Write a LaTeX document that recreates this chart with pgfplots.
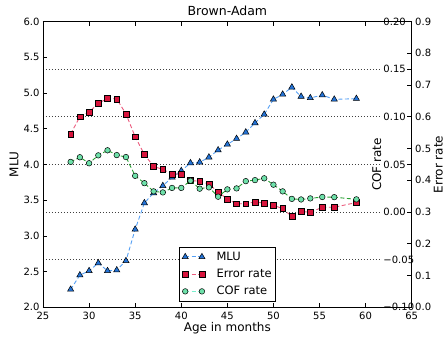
\documentclass[border=0pt]{standalone}
\usepackage{pgfplots}
\pgfplotsset{compat=1.18}
\usepackage{fontspec}
\setmainfont{DejaVu Sans}

\definecolor{mlufill}{RGB}{35,115,215}
\definecolor{mluline}{RGB}{85,160,245}
\definecolor{errfill}{RGB}{215,20,60}
\definecolor{errline}{RGB}{235,90,125}
\definecolor{coffill}{RGB}{110,225,170}
\definecolor{cofline}{RGB}{40,160,50}
\definecolor{coflegend}{RGB}{120,240,205}

\pgfplotsset{
  every axis/.append style={
    scale only axis, width=368.7pt, height=285.8pt,
    xmin=25, xmax=65,
    tick align=inside,
    major tick length=4.5pt,
    every tick/.style={black, line width=0.6pt},
    axis line style={line width=0.8pt},
    tick label style={font=\fontsize{10}{12}\selectfont},
    label style={font=\fontsize{12}{14}\selectfont},
  },
  mlu/.style={mluline, line width=0.9pt, dash pattern=on 4pt off 2.5pt,
    mark=triangle*, mark size=3.6pt,
    mark options={solid, fill=mlufill, draw=black, line width=0.5pt}},
  err/.style={errline, line width=0.9pt, dash pattern=on 4pt off 2.5pt,
    mark=square*, mark size=2.9pt,
    mark options={solid, fill=errfill, draw=black, line width=0.5pt}},
  cof/.style={cofline, line width=0.9pt, dash pattern=on 4pt off 2.5pt,
    mark=*, mark size=2.8pt,
    mark options={solid, fill=coffill, draw=black, line width=0.5pt}},
  cofscale/.style={ymin=-0.10, ymax=0.20},
}

\begin{document}
\begin{tikzpicture}
\path[use as bounding box] (-43pt,-31.7pt) rectangle (402pt,307.3pt);

% COF scale: dotted grid, ticks and labels just inside the right spine
\begin{axis}[
  cofscale,
  hide x axis,
  axis y line*=right,
  ytick={-0.1,-0.05,0,0.05,0.1,0.15,0.2},
  yticklabels={−0.10,−0.05,0.00,0.05,0.10,0.15,0.20},
  yticklabel style={anchor=west, xshift=-29.9pt, fill=white, inner xsep=1.5pt},
  ymajorgrids,
  grid style={black!75, dash pattern=on 0.8pt off 2.2pt, line width=0.8pt},
  ylabel={COF rate},
  ylabel style={at={(axis description cs:0.905,0.5)}, anchor=center, rotate=0},
]
\end{axis}

% Host axis: mean length of utterance
\begin{axis}[
  ymin=2, ymax=6,
  xtick={25,30,35,40,45,50,55,60,65},
  xticklabels={25,30,35,40,45,50,55,60,65},
  xticklabel style={yshift=-1.2pt},
  ytick={2,2.5,3,3.5,4,4.5,5,5.5,6},
  yticklabels={2.0,2.5,3.0,3.5,4.0,4.5,5.0,5.5,6.0},
  ytick pos=left,
  xlabel={Age in months}, ylabel={MLU},
  xlabel style={at={(axis description cs:0.5,-0.0724)}, anchor=center},
  ylabel style={at={(axis description cs:-0.0787,0.5)}, anchor=center},
  title={Brown-Adam},
  every axis title shift=0pt,
  title style={at={(axis description cs:0.5,1.0367)}, anchor=center, yshift=0pt,
    font=\fontsize{12.5}{14}\selectfont},
]
\addplot[mlu] coordinates {
  (28,2.25) (29,2.45) (30,2.51) (31,2.62) (32,2.51) (33,2.52) (34,2.65)
  (35,3.09) (36,3.46) (37,3.60) (38,3.70) (39,3.82) (40,3.91) (41,4.02)
  (42,4.03) (43,4.10) (44,4.20) (45,4.28) (46,4.36) (47,4.45) (48,4.58)
  (49,4.70) (50,4.91) (51,4.98) (52,5.08) (53,4.95) (54,4.93) (55.3,4.97)
  (56.6,4.91) (59,4.92)
};
\end{axis}

% Error rate on the outer right scale
\begin{axis}[
  ymin=0, ymax=0.9,
  hide x axis,
  axis y line*=right,
  ytick={0,0.1,0.2,0.3,0.4,0.5,0.6,0.7,0.8,0.9},
  yticklabels={0.0,0.1,0.2,0.3,0.4,0.5,0.6,0.7,0.8,0.9},
  yticklabel style={anchor=west},
  ylabel={Error rate},
  ylabel style={at={(axis description cs:1.072,0.5)}, anchor=center, rotate=0},
]
\addplot[err] coordinates {
  (28,0.546) (29,0.600) (30,0.615) (31,0.642) (32,0.658) (33,0.656)
  (34,0.609) (35,0.537) (36,0.481) (37,0.444) (38,0.434) (39,0.420)
  (40,0.419) (41,0.399) (42,0.397) (43,0.388) (44,0.363) (45,0.341)
  (46,0.326) (47,0.326) (48,0.332) (49,0.328) (50,0.321) (51,0.311)
  (52,0.286) (53,0.302) (54,0.299) (55.3,0.315) (56.6,0.315) (59,0.330)
};
\end{axis}

% COF rate data and the shared legend
\begin{axis}[
  cofscale,
  hide x axis, hide y axis,
  legend style={at={(axis description cs:0.5,0.0196)}, anchor=south,
    draw=black, fill=white, line width=0.6pt,
    font=\fontsize{11.5}{13}\selectfont,
    row sep=3.3pt, column sep=10.5pt, inner xsep=3pt, inner ysep=3pt,
    nodes={inner xsep=1pt}},
  legend cell align=left,
  legend image code/.code={\draw[#1] plot coordinates {(0pt,0pt) (16.7pt,0pt)};},
]
\addlegendimage{mlu}
\addlegendentry{MLU}
\addlegendimage{err}
\addlegendentry{Error rate}
\addlegendimage{cof, coflegend}
\addlegendentry{COF rate}
\addplot[cof, forget plot] coordinates {
  (28,0.0526) (29,0.0575) (30,0.0512) (31,0.0595) (32,0.0648) (33,0.0598)
  (34,0.0577) (35,0.0380) (36,0.0303) (37,0.0217) (38,0.0206) (39,0.0253)
  (40,0.0253) (41,0.0329) (42,0.0245) (43,0.0259) (44,0.0161) (45,0.0238)
  (46,0.0248) (47,0.0324) (48,0.0335) (49,0.0354) (50,0.0287) (51,0.0217)
  (52,0.0138) (53,0.0132) (54,0.0143) (55.3,0.0158) (56.6,0.0156) (59,0.0133)
};
\end{axis}
\end{tikzpicture}
\end{document}
